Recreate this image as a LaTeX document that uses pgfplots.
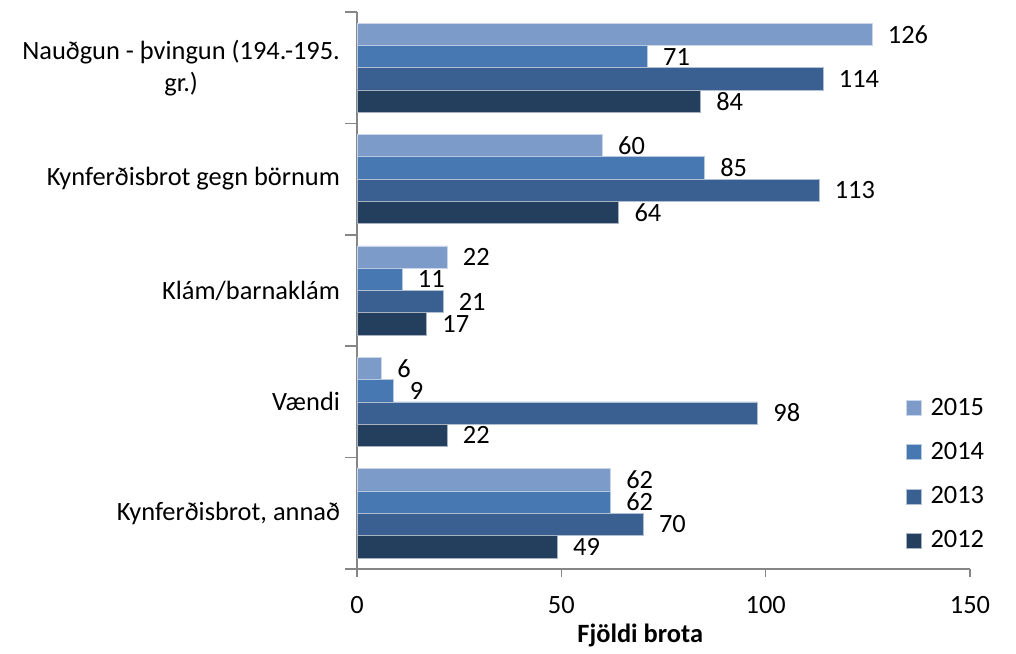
\documentclass[border=0pt]{standalone}
\usepackage{pgfplots}
\pgfplotsset{compat=1.18}
\usepackage{fontspec}
\setmainfont{Carlito}
\definecolor{cA}{RGB}{124,155,201}
\definecolor{cB}{RGB}{72,120,177}
\definecolor{cC}{RGB}{58,96,146}
\definecolor{cD}{RGB}{36,62,94}
\definecolor{axgray}{RGB}{134,134,134}

\begin{document}
\begin{tikzpicture}[font=\fontsize{13.2}{16}\selectfont]
\begin{axis}[
  scale only axis,
  width=306.5pt, height=278.5pt,
  xbar, bar width=0.2,
  xmin=0, xmax=150,
  ymin=-0.5, ymax=4.5,
  axis lines*=left,
  axis line style={axgray, line width=0.8pt},
  xtick={0,50,100,150},
  ytick={0,1,2,3,4},
  yticklabels={{Kynferðisbrot, annað},Vændi,{Klám/barnaklám},{Kynferðisbrot gegn börnum},{Nauðgun - þvingun (194.-195.\\gr.)}},
  yticklabel style={align=center, xshift=-1pt},
  minor ytick={-0.5,0.5,1.5,2.5,3.5,4.5},
  major y tick style={draw=none},
  minor y tick style={axgray, line width=0.8pt},
  x tick style={axgray, line width=0.8pt},
  tick align=outside,
  major tick length=4pt, minor tick length=6pt,
  xticklabel style={yshift=-6pt},
  /pgf/number format/assume math mode=true,
  xlabel={\textbf{Fjöldi brota}},
  xlabel style={at={(rel axis cs:0.462,0)}, anchor=north, yshift=-24pt},
  nodes near coords,
  nodes near coords style={anchor=west, xshift=4.5pt, inner ysep=0.5pt, black, font=\fontsize{13.2}{16}\selectfont},
  legend style={draw=none, fill=none, at={(rel axis cs:0.885,0.17)}, anchor=west,
    row sep=8pt, font=\fontsize{13.2}{16}\selectfont},
  legend cell align=left,
  legend image code/.code={\fill[#1] (0pt,-3.75pt) rectangle (7.5pt,3.75pt); \path (10pt,0pt);},
]
\addplot[fill=cA, draw=white!60!cA, line width=0.3pt, bar shift=0.3]
  coordinates {(62,0) (6,1) (22,2) (60,3) (126,4)};
\addplot[fill=cB, draw=white!60!cB, line width=0.3pt, bar shift=0.1]
  coordinates {(62,0) (9,1) (11,2) (85,3) (71,4)};
\addplot[fill=cC, draw=white!60!cC, line width=0.3pt, bar shift=-0.1]
  coordinates {(70,0) (98,1) (21,2) (113,3) (114,4)};
\addplot[fill=cD, draw=white!60!cD, line width=0.3pt, bar shift=-0.3]
  coordinates {(49,0) (22,1) (17,2) (64,3) (84,4)};
\legend{2015,2014,2013,2012}
\coordinate (bbsw) at (rel axis cs:-0.5824,-0.1382);
\coordinate (bbne) at (rel axis cs:1.0750,1.0215);
\end{axis}
\path (bbsw) rectangle (bbne);
\end{tikzpicture}
\end{document}
